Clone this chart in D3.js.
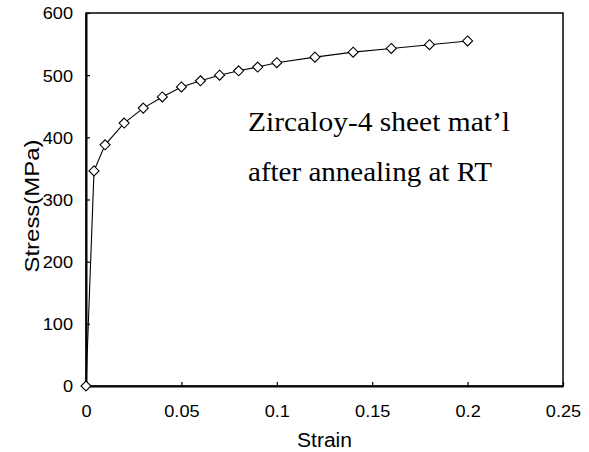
<!DOCTYPE html>
<html><head><meta charset="utf-8">
<script src="https://cdn.jsdelivr.net/npm/d3@7"></script>
<style>body{margin:0;background:#fff}svg{display:block}</style>
</head><body>
<script>
const strain = [0, 0.0042, 0.01, 0.02, 0.03, 0.04, 0.05, 0.06, 0.07, 0.08, 0.09, 0.1, 0.12, 0.14, 0.16, 0.18, 0.2];
const stress = [0, 346, 388, 423, 447, 465, 481, 491, 500, 507, 513, 520, 529, 537, 543, 549, 555];
const xTicks = [0, 0.05, 0.1, 0.15, 0.2, 0.25];
const xTickLabels = ["0", "0.05", "0.1", "0.15", "0.2", "0.25"];
const yTicks = [0, 100, 200, 300, 400, 500, 600];
const annotation = ["Zircaloy-4 sheet mat\u2019l", "after annealing at RT"];

const W = 589, H = 452;
const m = {l: 86, r: 26, t: 13, b: 66};
const sans = "Liberation Sans, Arial, Helvetica, sans-serif";
const svg = d3.select("body").append("svg").attr("width", W).attr("height", H);
const x = d3.scaleLinear().domain([0, 0.25]).range([m.l, W - m.r]);
const y = d3.scaleLinear().domain([0, 600]).range([H - m.b, m.t]);

function stretch(sel, f) {
  sel.each(function () {
    const L = this.getComputedTextLength();
    d3.select(this).attr("textLength", L * f).attr("lengthAdjust", "spacingAndGlyphs");
  });
}

// frame
svg.append("rect").attr("x", x(0)).attr("y", y(600)).attr("width", x(0.25) - x(0)).attr("height", y(0) - y(600))
  .attr("fill", "none").attr("stroke", "#000").attr("stroke-width", 1.5);

const xa = svg.append("g").attr("transform", `translate(0,${y(0)})`)
  .call(d3.axisBottom(x).tickValues(xTicks).tickFormat((d, i) => xTickLabels[i]).tickSizeInner(-4).tickSizeOuter(0).tickPadding(0));
const ya = svg.append("g").attr("transform", `translate(${x(0)},0)`)
  .call(d3.axisLeft(y).tickValues(yTicks).tickSizeInner(-4).tickSizeOuter(0).tickPadding(13));
[xa, ya].forEach(g => {
  g.select(".domain").attr("stroke", "#000").attr("stroke-width", 2);
  g.selectAll(".tick line").attr("stroke", "#000").attr("stroke-width", 1.2);
  g.selectAll("text").attr("font-family", sans).attr("font-size", 16.5).attr("fill", "#000");
});
xa.selectAll(".tick text").attr("y", 31).attr("dy", null);
ya.selectAll(".tick text").attr("dy", "0.36em");
stretch(xa.selectAll(".tick text"), 1.1);
stretch(ya.selectAll(".tick text"), 1.1);

const xl = svg.append("text").attr("x", 324.5).attr("y", 447).attr("text-anchor", "middle")
  .attr("font-family", sans).attr("font-size", 20).text("Strain");
const yl = svg.append("text").attr("transform", `translate(39,206) rotate(-90)`).attr("text-anchor", "middle")
  .attr("font-family", sans).attr("font-size", 19.5).text("Stress(MPa)");
xl.attr("textLength", 55).attr("lengthAdjust", "spacingAndGlyphs");
yl.attr("textLength", 133).attr("lengthAdjust", "spacingAndGlyphs");

const pts = strain.map((s, i) => [s, stress[i]]);
svg.append("path").datum(pts).attr("fill", "none").attr("stroke", "#000").attr("stroke-width", 1.1)
  .attr("d", d3.line().x(d => x(d[0])).y(d => y(d[1])));
svg.selectAll(".mk").data(pts).enter().append("path")
  .attr("transform", d => `translate(${x(d[0])},${y(d[1])})`)
  .attr("d", d3.symbol().type(d3.symbolDiamond2).size(64))
  .attr("fill", "#fff").attr("stroke", "#000").attr("stroke-width", 1.1);

const annW = [262, 244];
svg.selectAll(".ann").data(annotation).enter().append("text")
  .attr("x", 248).attr("y", (d, i) => 131 + i * 50)
  .attr("font-family", "Liberation Serif, Times New Roman, serif").attr("font-size", 27).attr("fill", "#000")
  .attr("textLength", (d, i) => annW[i]).attr("lengthAdjust", "spacingAndGlyphs")
  .text(d => d);
</script>
</body></html>
